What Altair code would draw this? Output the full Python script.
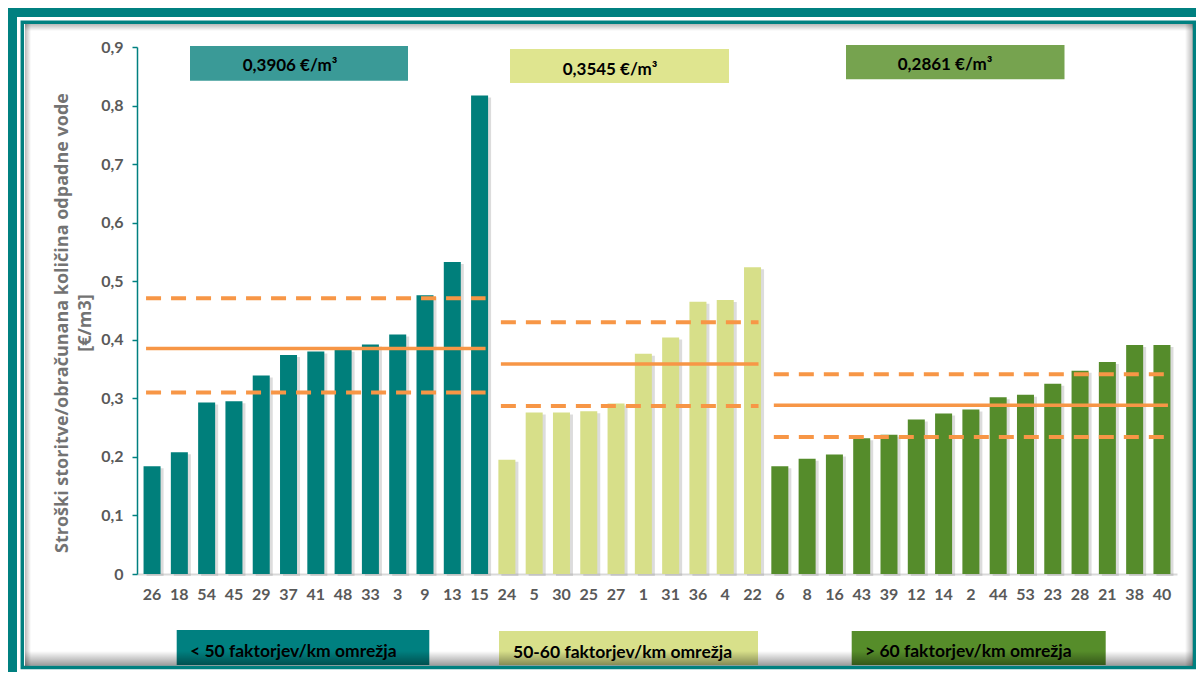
import altair as alt
import pandas as pd

# ---- data ----
g1_labels = ["26", "18", "54", "45", "29", "37", "41", "48", "33", "3", "9", "13", "15"]
g1_values = [0.184, 0.208, 0.293, 0.295, 0.339, 0.374, 0.380, 0.383, 0.392, 0.409, 0.476, 0.533, 0.817]
g2_labels = ["24", "5", "30", "25", "27", "1", "31", "36", "4", "22"]
g2_values = [0.195, 0.276, 0.276, 0.278, 0.291, 0.376, 0.404, 0.465, 0.468, 0.524]
g3_labels = ["6", "8", "16", "43", "39", "12", "14", "2", "44", "53", "23", "28", "21", "38", "40"]
g3_values = [0.184, 0.197, 0.204, 0.232, 0.238, 0.264, 0.274, 0.281, 0.302, 0.306, 0.325, 0.347, 0.362, 0.391, 0.391]

group_names = ["< 50 faktorjev/km omrežja", "50-60 faktorjev/km omrežja", "> 60 faktorjev/km omrežja"]
group_avg_labels = ["0,3906 €/m³", "0,3545 €/m³", "0,2861 €/m³"]
group_mean = [0.385, 0.3586, 0.288]
group_lower = [0.310, 0.287, 0.234]
group_upper = [0.471, 0.430, 0.341]
y_ticks = [0, 0.1, 0.2, 0.3, 0.4, 0.5, 0.6, 0.7, 0.8, 0.9]
y_title = ["Stroški storitve/obračunana količina odpadne vode", "[€/m3]"]

# ---- styling ----
bar_colors = ["#007f7b", "#d7df89", "#558c2b"]
top_box_colors = ["#3a9a97", "#dfe58f", "#76a34f"]
bottom_box_colors = ["#008080", "#d8e08a", "#568d2a"]
ORANGE = "#f79646"
TEAL = "#008080"
LABEL_GRAY = "#595959"

groups = [g1_labels, g2_labels, g3_labels]
order = g1_labels + g2_labels + g3_labels
bars = pd.DataFrame({
    "cat": order,
    "value": g1_values + g2_values + g3_values,
    "group": sum([[n] * len(g) for n, g in zip(group_names, groups)], []),
})
stats = pd.DataFrame({
    "group": group_names,
    "start": [g[0] for g in groups],
    "end": [g[-1] for g in groups],
    "mean": group_mean,
    "lower": group_lower,
    "upper": group_upper,
})

xscale = alt.Scale(domain=order, paddingInner=0.377, paddingOuter=0.24)
yscale = alt.Scale(domain=[0, 0.9], nice=False, zero=True)

xaxis = alt.Axis(title=None, labelAngle=0, labelFont="Lato", labelFontSize=16,
                 labelFontWeight="bold", labelColor=LABEL_GRAY, ticks=False,
                 domainColor="#d9d9d9", domainWidth=2, labelPadding=12, grid=False)
yaxis = alt.Axis(title=None, values=y_ticks,
                 labelExpr="datum.value == 0 ? '0' : replace(format(datum.value, '.1f'), '.', ',')",
                 labelFont="Lato", labelFontSize=16, labelFontWeight="bold",
                 labelColor=LABEL_GRAY, domainColor=TEAL, domainWidth=1.5,
                 tickColor=TEAL, tickSize=5, tickWidth=1.5, labelPadding=9, grid=False)

one = pd.DataFrame({"k": [0]})

# frame
frame_outer = alt.Chart(one).mark_rect(
    x=-125, y=-35, x2=1075, y2=635, fill=None, fillOpacity=0,
    stroke=TEAL, strokeWidth=10).encode(opacity=alt.value(1))
frame_inner = alt.Chart(one).mark_rect(
    x=-114.7, y=-24.7, x2=1057.5, y2=620.5, fill=None, fillOpacity=0,
    stroke=TEAL, strokeWidth=3.5).encode(opacity=alt.value(1))


def shade(x1, y1, x2, y2, gx1, gy1, gx2, gy2, a=0.32):
    grad = alt.LinearGradient(
        gradient="linear", x1=gx1, y1=gy1, x2=gx2, y2=gy2,
        stops=[alt.GradientStop(offset=0, color=f"rgba(0,0,0,{a})"),
               alt.GradientStop(offset=1, color="rgba(0,0,0,0)")])
    return alt.Chart(one).mark_rect(x=x1, y=y1, x2=x2, y2=y2, color=grad).encode(opacity=alt.value(1))


shadow = alt.Chart(bars).mark_bar(color="#9a9a9a", opacity=0.35, xOffset=3, yOffset=2).encode(
    x=alt.X("cat:N", scale=xscale, axis=xaxis),
    y=alt.Y("value:Q", scale=yscale, axis=yaxis),
)
bar_layer = alt.Chart(bars).mark_bar().encode(
    x=alt.X("cat:N", scale=xscale, axis=xaxis),
    y=alt.Y("value:Q", scale=yscale, axis=yaxis),
    color=alt.Color("group:N", scale=alt.Scale(domain=group_names, range=bar_colors), legend=None),
)
mean_rule = alt.Chart(stats).mark_rule(color=ORANGE, strokeWidth=3.5, xOffset=-6, x2Offset=6).encode(
    x=alt.X("start:N", scale=xscale, axis=xaxis),
    x2="end:N",
    y=alt.Y("mean:Q", scale=yscale, axis=yaxis),
)
band_rule = alt.Chart(stats).transform_fold(["lower", "upper"], as_=["which", "v"]).mark_rule(
    color=ORANGE, strokeWidth=4, strokeDash=[15, 10], xOffset=-6, x2Offset=6).encode(
    x=alt.X("start:N", scale=xscale, axis=xaxis),
    x2="end:N",
    y=alt.Y("v:Q", scale=yscale, axis=yaxis),
    detail="which:N",
)

layers = [frame_inner, frame_outer, shadow, bar_layer, mean_rule, band_rule]

# top value boxes (pixel positions relative to plot origin)
top_pos = [(53, -1, 271, 33.7, 153, 19), (373, 2, 592, 36, 473, 23), (709, -2, 927.5, 32.3, 808, 18)]
for lab, col, (x1, y1, x2, y2, tx, ty) in zip(group_avg_labels, top_box_colors, top_pos):
    d = pd.DataFrame({"label": [lab]})
    layers.append(alt.Chart(d).mark_rect(x=x1, y=y1, x2=x2, y2=y2, color=col).encode(opacity=alt.value(1)))
    layers.append(alt.Chart(d).mark_text(x=tx, y=ty, align="center", baseline="middle", font="Lato",
                                         fontSize=17, fontWeight="bold", color="black").encode(text="label:N"))

# bottom group boxes
bot_pos = [(39.7, 583, 292.3, 618, 53, 605), (362, 584, 621, 618, 376, 606), (714.7, 584, 968.7, 618, 728, 605)]
for lab, col, (x1, y1, x2, y2, tx, ty) in zip(group_names, bottom_box_colors, bot_pos):
    d = pd.DataFrame({"label": [lab]})
    layers.append(alt.Chart(d).mark_rect(x=x1, y=y1, x2=x2, y2=y2, color=col).encode(opacity=alt.value(1)))
    layers.append(alt.Chart(d).mark_text(x=tx, y=ty, align="left", baseline="middle", font="Lato",
                                         fontSize=17.5, fontWeight="bold", color="black").encode(text="label:N"))

# inner frame shading (soft shadow inside the border)
layers += [
    shade(-112, -23, 1056, -16, 0, 0, 0, 1, 0.28),    # top
    shade(-112, -23, -106, 619, 0, 0, 1, 0, 0.28),    # left
    shade(1048, -23, 1056, 619, 1, 0, 0, 0, 0.28),    # right
    shade(-112, 604, 1056, 618.8, 0, 1, 0, 0, 0.40),  # bottom
]

# y title
ttl = pd.DataFrame({"k": [0]})
layers.append(alt.Chart(ttl).mark_text(x=-74, y=276, angle=270, align="center", baseline="middle",
                                       font="Open Sans", fontSize=18, fontWeight="bold",
                                       color="#737373", lineHeight=22.5).encode(text=alt.value(y_title)))

chart = alt.layer(*layers).properties(
    width=1040, height=527,
    padding={"left": 129, "top": 39, "right": 19, "bottom": 98},
    autosize=alt.AutoSizeParams(type="none"),
    background="white",
).configure_view(stroke=None)

chart.save("out.html", embed_options={"renderer": "svg", "actions": False})
